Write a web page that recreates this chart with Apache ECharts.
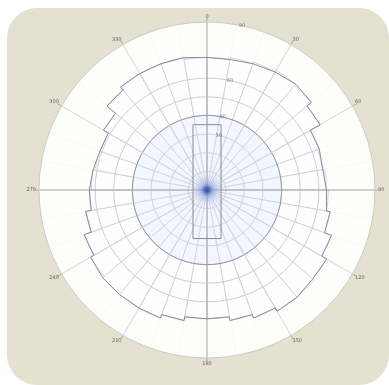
<!DOCTYPE html>
<html>
<head>
<meta charset="utf-8">
<script src="https://cdn.jsdelivr.net/npm/echarts@6/dist/echarts.min.js"></script>
<style>
  html, body { margin:0; padding:0; background:#ffffff; }
  #card { position:absolute; left:7px; top:8px; right:0; bottom:0; background:#e4e1d1; border-radius:30px; }
  #chart { position:absolute; left:0; top:0; width:389px; height:385px; }
</style>
</head>
<body>
<div id="card"></div>
<div id="chart"></div>
<script>
// ---- data ----
// outer boundary radius of the cell grid per 10-degree sector (clockwise from north)
const sectorAngles = [0,10,20,30,40,50,60,70,80,90,100,110,120,130,140,150,160,170,
                      180,190,200,210,220,230,240,250,260,270,280,290,300,310,320,330,340,350];
const outerRadius = [71,72,73,74,73,70,64,63,64,65,67,71,74,75,75,73,71,69,
                     69,71,73,73,73,72,70,66,63,62,61,61,64,70,72,72,72,71];
// ring boundaries of the cell grid
const ringEdges = [0,10,20,30,40,50,60];
// angle tick labels
const angleTicks = ['0','30','60','90','120','150','180','210','240','270','300','330'];
// radius labels along a ray
const radiusLabelValues = [30,40,60,90];
const radiusLabelAngle = 12;
// central rectangle (x: half-widths, y: top/bottom, in radius units)
const rectX = [-7.5, 7.5];
const rectY = [35, -26];
const rMax = 90;

// ---- build series ----
const cellSeries = [];
for (let k = 0; k < ringEdges.length; k++) {
  const lo = ringEdges[k];
  const hi = k + 1 < ringEdges.length ? ringEdges[k + 1] : Infinity;
  const vals = outerRadius.map(r => Math.max(0, Math.min(r, hi) - lo));
  cellSeries.push({
    type: 'bar', coordinateSystem: 'polar', polarIndex: 0, stack: 'cells',
    barCategoryGap: '0%', silent: true, z: 2,
    showBackground: k === 0,
    backgroundStyle: { color: '#fdfdfa' },
    itemStyle: {
      color: lo < 40 ? '#f3f6fc' : '#fefefe',
      borderColor: lo < 40 ? '#c6cde6' : '#c2c5d1',
      borderWidth: 0.7
    },
    data: vals
  });
}

// stepped outline
const outline = [];
sectorAngles.forEach((a, i) => {
  outline.push([outerRadius[i], a]);
  outline.push([outerRadius[i], a + 10]);
});
outline.push(outline[0]);

// rectangle corners converted to polar (radius, angle clockwise from north)
function toPolar(x, y) {
  let ang = Math.atan2(x, y) * 180 / Math.PI;
  if (ang < 0) ang += 360;
  return [Math.hypot(x, y), ang];
}
const rectPts = [
  toPolar(rectX[0], rectY[0]), toPolar(rectX[1], rectY[0]),
  toPolar(rectX[1], rectY[1]), toPolar(rectX[0], rectY[1]),
  toPolar(rectX[0], rectY[0])
];

const ringColors = ringEdges.concat([70,80,90]).map(v => v === 40 ? '#979aa3' : 'rgba(0,0,0,0)');

const chart = echarts.init(document.getElementById('chart'), null, { renderer: 'canvas' });
chart.setOption({
  backgroundColor: 'transparent',
  animation: false,
  polar: [
    { center: [207, 190], radius: 168 },
    { center: [207, 190], radius: 168 }
  ],
  angleAxis: [
    { polarIndex: 0, type: 'category', data: sectorAngles.map(String), startAngle: 90, clockwise: true,
      axisLine: { show: false }, axisTick: { show: false }, axisLabel: { show: false }, splitLine: { show: false } },
    { polarIndex: 1, type: 'value', min: 0, max: 360, interval: 30, startAngle: 90, clockwise: true, z: 3,
      axisLine: { show: true, lineStyle: { color: '#cbcbc5', width: 1 } },
      axisTick: { show: true, inside: false, length: 5, lineStyle: { color: '#a8a8a0', width: 1 } },
      axisLabel: { show: true, margin: 3, fontSize: 5, color: '#5f5f55', fontFamily: 'DejaVu Sans',
        formatter: v => angleTicks[Math.round(v / 30)] ?? '' },
      splitLine: { show: true, lineStyle: { color: ['#a2a4a8', '#d2d5de', '#d2d5de'], width: 1 } } }
  ],
  radiusAxis: [
    { polarIndex: 0, type: 'value', min: 0, max: rMax,
      axisLine: { show: false }, axisTick: { show: false }, axisLabel: { show: false }, splitLine: { show: false } },
    { polarIndex: 1, type: 'value', min: 0, max: rMax, interval: 10, z: 3,
      axisLine: { show: false }, axisTick: { show: false }, axisLabel: { show: false },
      splitLine: { show: true, lineStyle: { color: ringColors, width: 1 } } }
  ],
  series: cellSeries.concat([
    { type: 'line', coordinateSystem: 'polar', polarIndex: 1, silent: true, z: 4,
      symbol: 'none', data: outline, lineStyle: { color: '#878b95', width: 1 } },
    { type: 'line', coordinateSystem: 'polar', polarIndex: 1, silent: true, z: 4,
      symbol: 'none', data: rectPts, lineStyle: { color: '#878b95', width: 1 } },
    { type: 'scatter', coordinateSystem: 'polar', polarIndex: 1, silent: true, z: 5,
      symbolSize: 0,
      data: radiusLabelValues.map(v => [v, radiusLabelAngle]),
      label: { show: true, position: 'inside', fontSize: 5, color: '#5f5f55', fontFamily: 'DejaVu Sans',
        formatter: p => String(p.value[0]) } },
    { type: 'scatter', coordinateSystem: 'polar', polarIndex: 1, silent: true, z: 6,
      symbolSize: 34, data: [[0, 0]],
      itemStyle: { color: { type: 'radial', x: 0.5, y: 0.5, r: 0.5, colorStops: [
        { offset: 0, color: '#13307a' }, { offset: 0.14, color: '#2a52b0' },
        { offset: 0.4, color: 'rgba(110,140,215,0.4)' }, { offset: 1, color: 'rgba(200,215,245,0)' } ] } } }
  ])
});
</script>
</body>
</html>
